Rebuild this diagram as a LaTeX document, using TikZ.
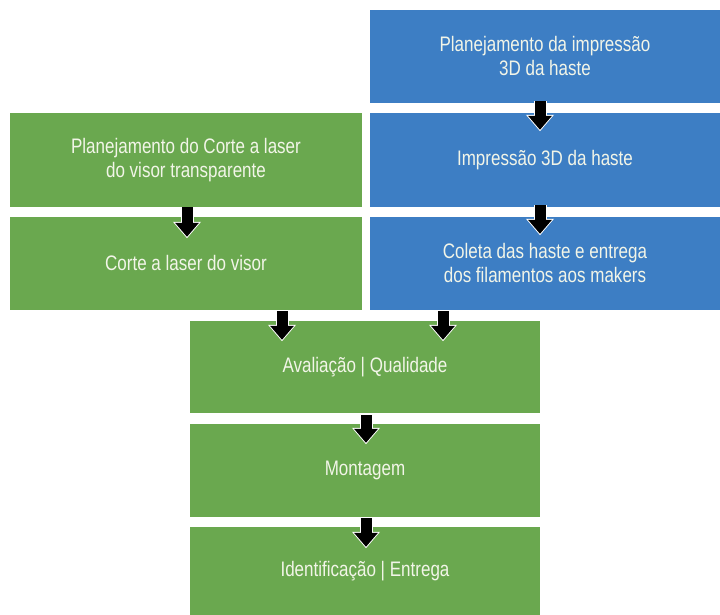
\documentclass[tikz,border=0pt]{standalone}
\usepackage{fontspec}
\setmainfont{Liberation Sans}[FakeStretch=0.81]
\usetikzlibrary{arrows.meta}
\definecolor{boxblue}{RGB}{61,126,196}
\definecolor{boxgreen}{RGB}{106,168,79}
\definecolor{txt}{RGB}{242,245,232}
\begin{document}
\begin{tikzpicture}[x=1pt,y=1pt,
  box/.style={draw=none,inner sep=0pt,align=center,text=txt,
    font=\fontsize{21}{24}\selectfont},
  bluebox/.style={box,fill=boxblue},
  greenbox/.style={box,fill=boxgreen},
  blk/.style={line width=11pt,black,
    -{Triangle[width=23pt,length=14pt]},
    preaction={draw=white,line width=13pt,-{Triangle[width=27pt,length=16.5pt]},shorten >=-1.5pt}}
]
\useasboundingbox (0,0) rectangle (720,615);
\node[bluebox,minimum width=350pt,minimum height=93pt] (b1) at (545,558.5) {Planejamento da impressão\\3D da haste};
\node[bluebox,minimum width=350pt,minimum height=94pt] (b2) at (545,455) {Impressão 3D da haste};
\node[bluebox,minimum width=350pt,minimum height=93pt] (b3) at (545,351.5) {Coleta das haste e entrega\\dos filamentos aos makers};
\node[greenbox,minimum width=352pt,minimum height=94pt] (l1) at (186,455) {Planejamento do Corte a laser\\do visor transparente};
\node[greenbox,minimum width=352pt,minimum height=93pt] (l2) at (186,351.5) {Corte a laser do visor};
\node[greenbox,minimum width=350pt,minimum height=92pt] (a) at (365,248) {Avaliação | Qualidade};
\node[greenbox,minimum width=350pt,minimum height=93pt] (m) at (365,144.5) {Montagem};
\node[greenbox,minimum width=350pt,minimum height=88pt] (i) at (365,44) {Identificação | Entrega};
\coordinate (xb) at (540,0);
\coordinate (xl) at (187,0);
\coordinate (xa1) at (282,0);
\coordinate (xa2) at (443,0);
\coordinate (xm) at (366,0);
\draw[blk] ([yshift=2pt]b1.south -| xb) -- ([yshift=-17pt]b2.north -| xb);
\draw[blk] ([yshift=2pt]b2.south -| xb) -- ([yshift=-17pt]b3.north -| xb);
\draw[blk] ([yshift=0pt]l1.south -| xl) -- ([yshift=-20pt]l2.north -| xl);
\draw[blk] ([yshift=-1pt]l2.south -| xa1) -- ([yshift=-19pt]a.north -| xa1);
\draw[blk] ([yshift=-1pt]b3.south -| xa2) -- ([yshift=-19pt]a.north -| xa2);
\draw[blk] ([yshift=-2pt]a.south -| xm) -- ([yshift=-19pt]m.north -| xm);
\draw[blk] ([yshift=-1pt]m.south -| xm) -- ([yshift=-20pt]i.north -| xm);
\end{tikzpicture}
\end{document}
